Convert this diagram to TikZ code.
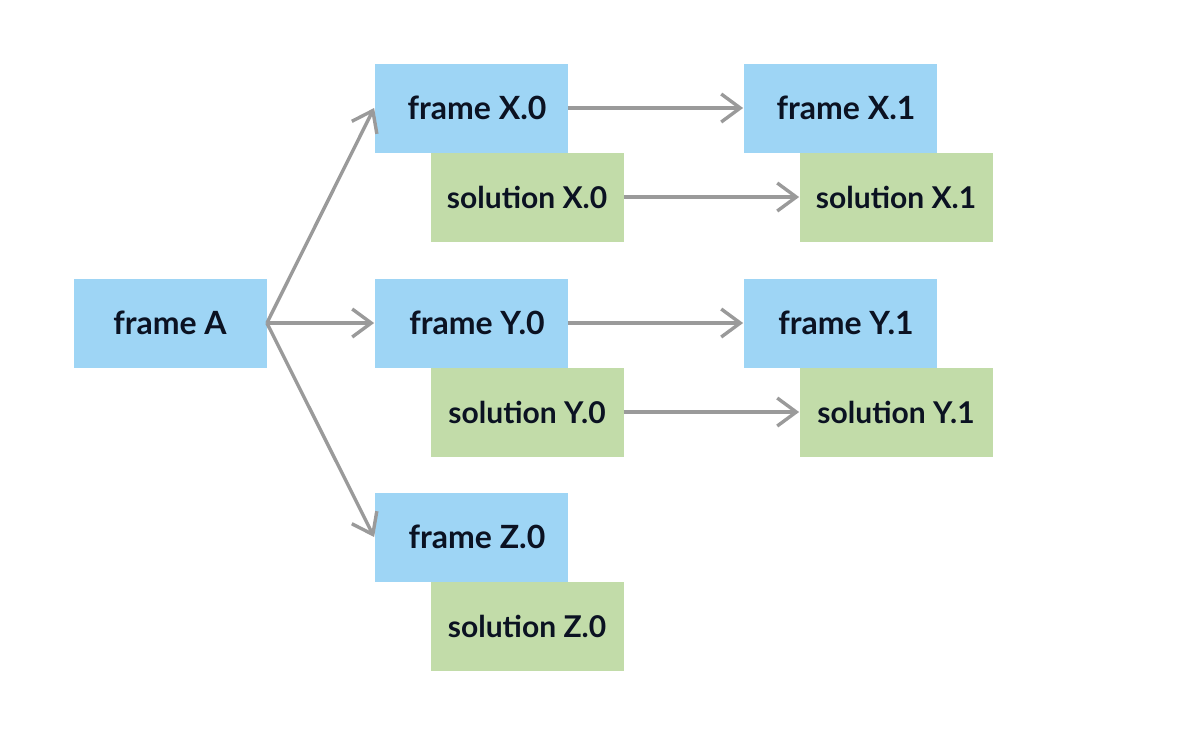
\documentclass[tikz,border=0pt]{standalone}
\usepackage{fontspec}
\setmainfont{Lato}
\usetikzlibrary{arrows.meta}
\definecolor{framebl}{HTML}{9ED5F5}
\definecolor{solgr}{HTML}{C2DCA9}
\definecolor{arrgray}{HTML}{9A9A9A}
\definecolor{txtdark}{HTML}{0B1222}
\begin{document}
\begin{tikzpicture}[
  x=0.5pt, y=-0.5pt,
  frm/.style={fill=framebl, minimum width=96.5pt, minimum height=44.5pt, inner sep=0pt,
    font=\fontsize{16}{19}\selectfont\bfseries, text=txtdark},
  sol/.style={frm, fill=solgr, font=\fontsize{15}{18}\selectfont\bfseries},
  arr/.style={-{Straight Barb[length=9.5pt, width=14pt, line width=1.7pt]}, draw=arrgray, line width=1.7pt}
]
\useasboundingbox (0,0) rectangle (1178,736);
\node[frm] (fa) at (170,323) {frame A};
\node[frm] (fx0) at (471,108) {\hspace{6pt}frame X.0};
\node[sol] (sx0) at (527,197) {solution X.0};
\node[frm] (fx1) at (840,108) {\hspace{6pt}frame X.1};
\node[sol] (sx1) at (896,197) {solution X.1};
\node[frm] (fy0) at (471,323) {\hspace{6pt}frame Y.0};
\node[sol] (sy0) at (527,412) {solution Y.0};
\node[frm] (fy1) at (840,323) {\hspace{6pt}frame Y.1};
\node[sol] (sy1) at (896,412) {solution Y.1};
\node[frm] (fz0) at (471,537) {\hspace{6pt}frame Z.0};
\node[sol] (sz0) at (527,626) {solution Z.0};
\draw[arr] (fa.east) -- (fx0.west);
\draw[arr] (fa.east) -- (fy0.west);
\draw[arr] (fa.east) -- (fz0.west);
\draw[arr] (fx0) -- (fx1);
\draw[arr] (sx0) -- (sx1);
\draw[arr] (fy0) -- (fy1);
\draw[arr] (sy0) -- (sy1);
\end{tikzpicture}
\end{document}
